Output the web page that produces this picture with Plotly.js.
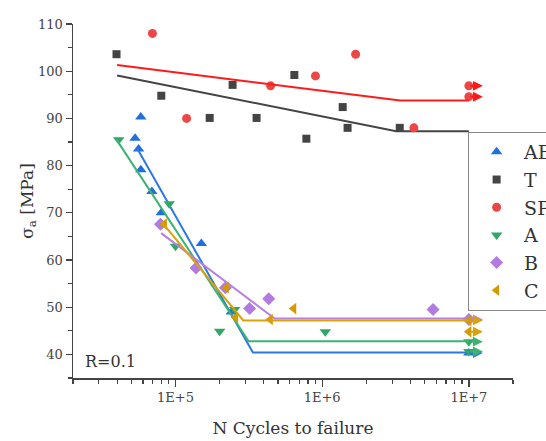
<!DOCTYPE html>
<html>
<head>
<meta charset="utf-8">
<script src="https://cdn.plot.ly/plotly-3.0.1.min.js"></script>
<style>html,body{margin:0;padding:0;background:#fff;}#chart{width:546px;height:441px;}</style>
</head>
<body>
<div id="chart"></div>
<script>
// ---- data ----
var seriesNames = ['AB', 'T', 'SP', 'A', 'B', 'C'];

var AB_N = [5.3e4, 5.8e4, 5.6e4, 5.8e4, 6.9e4, 8.0e4, 1.5e5, 2.4e5];
var AB_S = [85.8, 90.3, 83.5, 79.1, 74.5, 70.0, 63.5, 49.0];
var AB_runN = [1e7];
var AB_runS = [40.3];
var AB_fitN = [5.47e4, 3.37e5, 1e7];
var AB_fitS = [83.7, 40.4, 40.4];

var T_N = [3.96e4, 8.0e4, 1.71e5, 2.45e5, 3.57e5, 6.46e5, 7.8e5, 1.38e6, 1.49e6, 3.38e6];
var T_S = [103.6, 94.8, 90.1, 97.1, 90.1, 99.2, 85.7, 92.4, 88.0, 88.0];
var T_runN = [];
var T_runS = [];
var T_fitN = [4.0e4, 3.2e6, 1e7];
var T_fitS = [99.1, 87.3, 87.3];

var SP_N = [6.96e4, 1.19e5, 4.45e5, 9.0e5, 1.69e6, 4.22e6];
var SP_S = [108.0, 90.0, 96.9, 99.0, 103.6, 88.0];
var SP_runN = [1e7, 1e7];
var SP_runS = [96.9, 94.6];
var SP_fitN = [4.0e4, 3.4e6, 1e7];
var SP_fitS = [101.3, 93.8, 93.8];

var A_N = [4.1e4, 9.06e4, 1.0e5, 2.0e5, 2.53e5, 1.05e6];
var A_S = [85.5, 71.9, 62.9, 44.9, 49.5, 44.8];
var A_runN = [1e7, 1e7];
var A_runS = [42.7, 40.6];
var A_fitN = [3.94e4, 3.15e5, 1e7];
var A_fitS = [85.6, 42.8, 42.8];

var B_N = [7.9e4, 1.38e5, 2.19e5, 3.2e5, 4.32e5, 5.7e6];
var B_S = [67.6, 58.3, 54.1, 49.7, 51.8, 49.5];
var B_runN = [1e7];
var B_runS = [47.4];
var B_fitN = [7.98e4, 4.74e5, 1e7];
var B_fitS = [65.7, 47.6, 47.6];

var C_N = [8.4e4, 2.22e5, 2.57e5, 4.43e5, 6.4e5];
var C_S = [67.6, 54.1, 47.8, 47.4, 49.7];
var C_runN = [1e7, 1e7];
var C_runS = [47.2, 44.8];
var C_fitN = [7.98e4, 2.9e5, 1e7];
var C_fitS = [68.2, 47.2, 47.2];

var xTickVals = [1e5, 1e6, 1e7];
var xTickText = ['1E+5', '1E+6', '1E+7'];
var yTickVals = [40, 50, 60, 70, 80, 90, 100, 110];

// ---- styles ----
var SERIF = 'DejaVu Serif';
var styles = {
  AB: {sym: 'triangle-up', mc: '#1f6fe0', lc: '#2b78e4', size: 10},
  T:  {sym: 'square', mc: '#444444', lc: '#444444', size: 8},
  SP: {sym: 'circle', mc: '#ee4646', lc: '#ff1a1a', size: 9},
  A:  {sym: 'triangle-down', mc: '#2fa866', lc: '#3cb371', size: 10},
  B:  {sym: 'diamond', mc: '#b27be0', lc: '#b87fe3', size: 10},
  C:  {sym: 'triangle-left', mc: '#d49a00', lc: '#d9a20a', size: 10}
};

var dataSets = {
  AB: [AB_N, AB_S, AB_runN, AB_runS, AB_fitN, AB_fitS],
  T:  [T_N, T_S, T_runN, T_runS, T_fitN, T_fitS],
  SP: [SP_N, SP_S, SP_runN, SP_runS, SP_fitN, SP_fitS],
  A:  [A_N, A_S, A_runN, A_runS, A_fitN, A_fitS],
  B:  [B_N, B_S, B_runN, B_runS, B_fitN, B_fitS],
  C:  [C_N, C_S, C_runN, C_runS, C_fitN, C_fitS]
};

var traces = [];
var annotations = [];
seriesNames.forEach(function(name) {
  var d = dataSets[name], st = styles[name];
  traces.push({
    x: d[0].concat(d[2]), y: d[1].concat(d[3]), type: 'scatter', mode: 'markers', name: name,
    marker: {symbol: st.sym, color: st.mc, size: st.size, line: {width: 0}},
    legendgroup: name
  });
  traces.push({
    x: d[4], y: d[5], type: 'scatter', mode: 'lines', showlegend: false, hoverinfo: 'skip',
    line: {color: st.lc, width: 2}, legendgroup: name
  });
  d[2].forEach(function(n, i) {
    annotations.push({
      x: Math.log10(n), y: d[3][i], xref: 'x', yref: 'y', text: '',
      showarrow: true, ax: -14, ay: 0, axref: 'pixel', ayref: 'pixel', xshift: 14,
      arrowhead: 2, arrowsize: 1.1, arrowwidth: 1.8, arrowcolor: st.lc
    });
  });
});

annotations.push({
  text: 'R=0.1', xref: 'paper', yref: 'paper', x: 0.022, y: 0.048,
  xanchor: 'left', yanchor: 'middle', showarrow: false,
  font: {family: SERIF, size: 16, color: '#333'}
});

// minor ticks for log axis
var xMinor = [];
[1e4, 1e5, 1e6, 1e7].forEach(function(dec) {
  for (var k = 2; k <= 9; k++) xMinor.push(k * dec);
});

var layout = {
  width: 546, height: 441,
  margin: {l: 73, r: 33, t: 24, b: 63, autoexpand: false},
  paper_bgcolor: '#fff', plot_bgcolor: '#fff',
  font: {family: SERIF, color: '#444'},
  showlegend: true,
  xaxis: {
    type: 'log', range: [Math.log10(2e4), Math.log10(2e7)],
    tickmode: 'array', tickvals: xTickVals, ticktext: xTickText,
    ticks: 'outside', ticklen: 7, tickwidth: 1.3, tickcolor: '#444',
    showline: true, linecolor: '#444', linewidth: 1.5, showgrid: false, zeroline: false,
    automargin: false,
    tickfont: {family: SERIF, size: 13, color: '#444'},
    minor: {tickmode: 'array', tickvals: xMinor, ticks: 'outside', ticklen: 4, tickcolor: '#444', showgrid: false},
    title: {text: 'N Cycles to failure', font: {family: SERIF, size: 17, color: '#333'}, standoff: 18}
  },
  yaxis: {
    range: [35, 110], tickmode: 'array', tickvals: yTickVals,
    ticks: 'outside', ticklen: 6, tickwidth: 1.3, tickcolor: '#444',
    showline: true, linecolor: '#444', linewidth: 1.5, showgrid: false, zeroline: false,
    automargin: false,
    tickfont: {family: SERIF, size: 13, color: '#444'},
    minor: {dtick: 5, ticks: 'outside', ticklen: 4, tickcolor: '#444', showgrid: false},
    title: {text: 'σ<sub>a</sub> [MPa]', font: {family: SERIF, size: 17, color: '#333'}, standoff: 0}
  },
  legend: {
    x: 0.898, y: 0.695, xanchor: 'left', yanchor: 'top',
    bordercolor: '#888', borderwidth: 1, bgcolor: '#fff',
    font: {family: SERIF, size: 19, color: '#333'},
    itemwidth: 45, tracegroupgap: 0
  },
  annotations: annotations
};

Plotly.newPlot('chart', traces, layout, {displayModeBar: false, staticPlot: true});
</script>
</body>
</html>
